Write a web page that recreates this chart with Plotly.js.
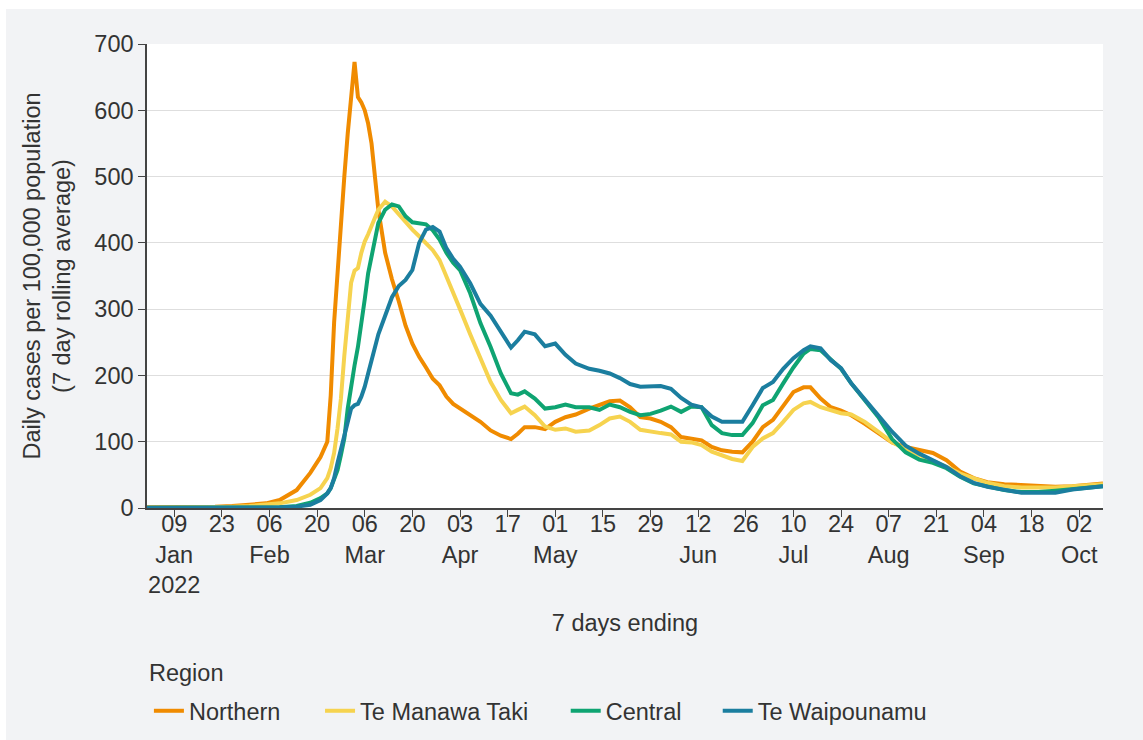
<!DOCTYPE html>
<html>
<head>
<meta charset="utf-8">
<script src="https://cdn.plot.ly/plotly-3.0.1.min.js"></script>
<style>
  html, body { margin: 0; padding: 0; background: #ffffff; width: 1143px; height: 740px; overflow: hidden; }
  #chart { position: absolute; left: 6px; top: 9px; width: 1137px; height: 731px; }
</style>
</head>
<body>
<div id="chart"></div>
<script>
const dates = [
  "2022-01-01","2022-01-11","2022-01-21","2022-01-26","2022-01-31","2022-02-05","2022-02-09","2022-02-14","2022-02-18","2022-02-21",
  "2022-02-23","2022-02-24","2022-02-25","2022-02-26","2022-02-27","2022-02-28","2022-03-01","2022-03-02","2022-03-03","2022-03-04","2022-03-05","2022-03-06","2022-03-07","2022-03-08","2022-03-09","2022-03-10",
  "2022-03-12","2022-03-14","2022-03-16","2022-03-18","2022-03-20","2022-03-22","2022-03-24","2022-03-26","2022-03-28","2022-03-30",
  "2022-04-01","2022-04-03","2022-04-06","2022-04-09","2022-04-12","2022-04-15","2022-04-18","2022-04-20","2022-04-22","2022-04-25",
  "2022-04-28","2022-05-01","2022-05-04","2022-05-07","2022-05-11","2022-05-14","2022-05-17","2022-05-20","2022-05-23","2022-05-26",
  "2022-05-29","2022-06-01","2022-06-04","2022-06-07","2022-06-10","2022-06-13","2022-06-16","2022-06-19","2022-06-22","2022-06-25",
  "2022-06-28","2022-07-01","2022-07-04","2022-07-07","2022-07-10","2022-07-13","2022-07-15","2022-07-18","2022-07-21","2022-07-24",
  "2022-07-27","2022-07-31","2022-08-04","2022-08-08","2022-08-12","2022-08-16","2022-08-20","2022-08-24","2022-08-28","2022-09-01",
  "2022-09-05","2022-09-10","2022-09-15","2022-09-20","2022-09-25","2022-09-30","2022-10-05","2022-10-09"
];

const northern = [
  1,1,2,3,5,7,12,27,53,77,
  100,170,280,360,430,500,565,625,673,620,612,600,580,550,500,450,
  385,345,312,275,248,228,212,195,185,168,
  157,150,140,130,117,109,104,112,122,122,
  119,130,137,141,150,156,161,162,152,137,
  135,130,122,107,105,102,92,87,85,84,
  100,122,133,155,175,182,182,165,152,147,
  140,127,113,99,92,87,83,72,55,45,
  39,36,35,33,32,33,35,37
];

const teManawaTaki = [
  0.5,0.5,1,2,3,5,7,12,20,30,
  45,60,83,120,165,230,290,340,358,362,385,402,413,424,438,450,
  462,455,443,430,420,410,400,389,374,350,
  325,300,262,225,190,163,143,148,153,140,
  123,118,120,115,117,125,135,138,130,118,
  115,113,111,100,99,95,85,80,74,71,
  92,105,113,130,148,158,160,152,147,143,
  141,130,115,99,89,80,72,62,52,45,
  38,33,31,31,31,33,34,36
];

const central = [
  0.3,0.3,0.3,0.5,0.5,1,1,3,8,15,
  22,30,42,57,80,105,150,185,215,243,275,315,354,380,408,430,
  450,458,455,440,431,430,428,419,405,385,
  370,359,324,279,243,203,173,171,176,165,
  150,152,156,152,152,148,156,152,145,140,
  142,147,153,145,153,152,125,113,110,110,
  128,155,163,188,212,233,240,238,224,210,
  188,163,137,104,84,73,68,60,47,37,
  32,27,24,24,26,29,31,33
];

const teWaipounamu = [
  0.3,0.3,0.3,0.3,0.5,0.5,1,2,5,12,
  22,30,45,68,88,108,130,150,155,157,168,183,203,223,245,262,
  290,318,335,344,359,400,420,424,417,392,
  376,364,339,308,290,265,242,253,266,262,
  244,248,231,218,210,207,203,196,187,183,
  183,184,180,166,156,152,138,130,130,130,
  155,181,190,210,226,238,244,241,223,211,
  188,163,138,115,94,82,72,62,48,38,
  32,27,23,23,23,28,31,33
];

const seriesNames = ["Northern", "Te Manawa Taki", "Central", "Te Waipounamu"];
const seriesColors = ["#f08b00", "#f6d34f", "#0fa472", "#1b7e9f"];
const seriesValues = [northern, teManawaTaki, central, teWaipounamu];
const legendIds = ["legend", "legend2", "legend3", "legend4"];

const tickDates = ["2022-01-09","2022-01-23","2022-02-06","2022-02-20","2022-03-06","2022-03-20","2022-04-03","2022-04-17","2022-05-01","2022-05-15","2022-05-29","2022-06-12","2022-06-26","2022-07-10","2022-07-24","2022-08-07","2022-08-21","2022-09-04","2022-09-18","2022-10-02"];
const tickLabels = ["09<br>Jan<br>2022","23","06<br>Feb","20","06<br>Mar","20","03<br>Apr","17","01<br>May","15","29","12<br>Jun","26","10<br>Jul","24","07<br>Aug","21","04<br>Sep","18","02<br>Oct"];

const FONT = "Liberation Sans, Arial, sans-serif";
const FS = 23.5;
const TXT = "#333333";

const traces = seriesNames.map((name, i) => ({
  type: "scatter",
  mode: "lines",
  name: name,
  legend: legendIds[i],
  x: dates,
  y: seriesValues[i],
  line: { color: seriesColors[i], width: 4, shape: "linear" },
  hoverinfo: "x+y+name"
}));

// legend entry positions (paper x) so each entry sits where the reference puts it
const legendX = [0.002, 0.181, 0.438, 0.597];

function legendBox(x) {
  return {
    orientation: "h",
    x: x,
    xanchor: "left",
    y: -0.4375,
    yanchor: "middle",
    bgcolor: "rgba(0,0,0,0)",
    font: { family: FONT, size: FS, color: TXT },
    itemwidth: 30
  };
}

const layout = {
  width: 1137,
  height: 731,
  paper_bgcolor: "#f2f3f5",
  plot_bgcolor: "#ffffff",
  margin: { l: 141, r: 40, t: 35, b: 232, autoexpand: false },
  font: { family: FONT, size: FS, color: TXT },
  showlegend: true,
  xaxis: {
    type: "date",
    range: ["2022-01-01", "2022-10-09"],
    tickmode: "array",
    tickvals: tickDates,
    ticktext: tickLabels,
    ticks: "outside",
    ticklen: 7,
    tickwidth: 1.2,
    tickcolor: "#444444",
    ticklabelstandoff: -13,
    showline: true,
    linecolor: "#444444",
    linewidth: 1.5,
    showgrid: false,
    zeroline: false,
    automargin: false,
    tickfont: { family: FONT, size: FS, color: TXT },
    title: { text: "7 days ending", font: { family: FONT, size: FS, color: TXT }, standoff: 18 }
  },
  yaxis: {
    range: [0, 700],
    tickmode: "array",
    tickvals: [0, 100, 200, 300, 400, 500, 600, 700],
    ticks: "outside",
    ticklen: 7,
    tickwidth: 1.2,
    tickcolor: "#444444",
    showline: true,
    linecolor: "#444444",
    linewidth: 1.5,
    showgrid: true,
    gridcolor: "#dedede",
    gridwidth: 1.2,
    zeroline: false,
    automargin: false,
    tickfont: { family: FONT, size: FS, color: TXT },
    title: { text: "Daily cases per 100,000 population<br>(7 day rolling average)", font: { family: FONT, size: FS, color: TXT }, standoff: 17 }
  },
  legend: legendBox(legendX[0]),
  legend2: legendBox(legendX[1]),
  legend3: legendBox(legendX[2]),
  legend4: legendBox(legendX[3]),
  annotations: [{
    text: "Region",
    xref: "paper", yref: "paper",
    x: 0, xanchor: "left",
    y: -0.355, yanchor: "middle",
    showarrow: false,
    font: { family: FONT, size: FS, color: TXT }
  }]
};

Plotly.newPlot("chart", traces, layout, { displayModeBar: false, responsive: false });
</script>
</body>
</html>
